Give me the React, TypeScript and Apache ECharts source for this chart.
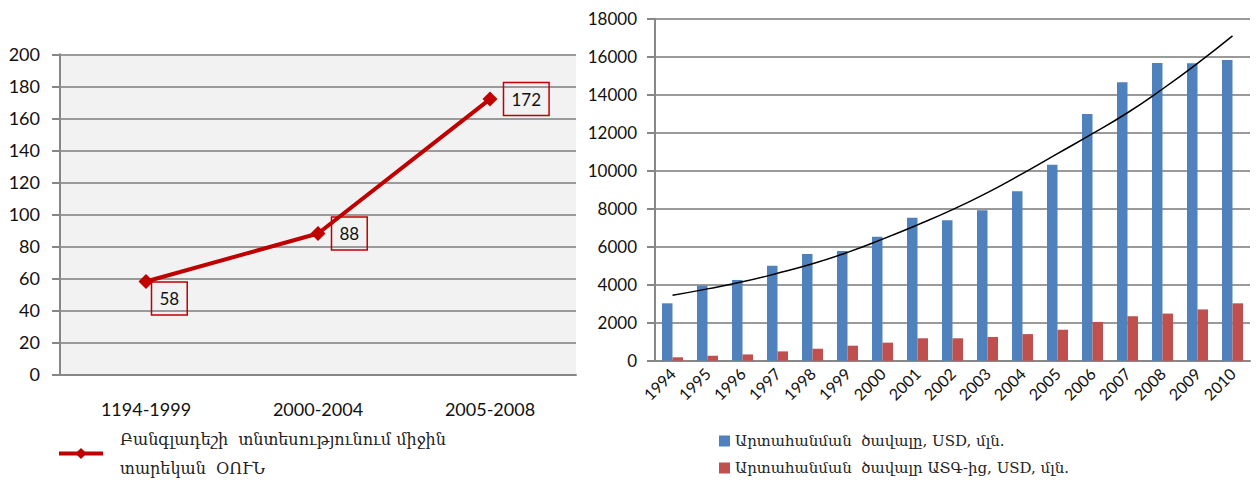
import React, { useEffect, useRef } from "react";
import * as echarts from "echarts";

const periods = ["1194-1999", "2000-2004", "2005-2008"];
const gdpGrowth = [58, 88, 172];
const gdpName = "Բանգլադեշի  տնտեսությունում միջին\nտարեկան  ՕՈՒՆ";

const years = ["1994", "1995", "1996", "1997", "1998", "1999", "2000", "2001", "2002", "2003", "2004", "2005", "2006", "2007", "2008", "2009", "2010"];
const exportTotal = [3020, 3950, 4250, 5000, 5620, 5780, 6530, 7530, 7390, 7920, 8920, 10310, 12980, 14660, 15670, 15650, 15820];
const exportFrom = [180, 260, 330, 490, 630, 790, 950, 1180, 1180, 1250, 1400, 1630, 2040, 2340, 2480, 2700, 3020];
const exportTrend = [3440, 3780, 4150, 4600, 5100, 5700, 6400, 7150, 7950, 8850, 9850, 10900, 11950, 13050, 14300, 15650, 17100];
const totalName = "Արտահանման  ծավալը, USD, մլն.";
const fromName = "Արտահանման  ծավալր ԱՏԳ-ից, USD, մլն.";

const NUM_FONT = "Lato, 'Open Sans', sans-serif";
const ARM_FONT = "'DejaVu Serif', 'DejaVu Sans', serif";
const AXIS_GRAY = "#878787";
const GRID_GRAY = "#9a9a9a";

export default function App() {
  const ref = useRef<HTMLDivElement>(null);
  useEffect(() => {
    if (!ref.current) return;
    const chart = echarts.init(ref.current, undefined, { renderer: "svg" });
    const labelOffsets: any[] = [
      { distance: 6, offset: [-8, 17] },
      { distance: 6, offset: [0, 0] },
      { distance: 6, offset: [0, 0] },
    ];
    const lineData = gdpGrowth.map((v, i) => ({
      value: v,
      label: { position: "right", ...labelOffsets[i] },
    }));
    chart.setOption({
      animation: false,
      grid: [
        { left: 60, right: 683, top: 54.3, bottom: 105.7, show: true, backgroundColor: "#f2f2f2", borderWidth: 0 },
        { left: 655, right: 9, top: 18.7, bottom: 119.3 },
      ],
      xAxis: [
        {
          gridIndex: 0,
          type: "category",
          data: periods,
          boundaryGap: true,
          axisLine: { lineStyle: { color: AXIS_GRAY, width: 2 } },
          axisTick: { length: 7, lineStyle: { color: AXIS_GRAY, width: 2 } },
          axisLabel: { margin: 26, fontFamily: NUM_FONT, fontSize: 18, color: "#111" },
        },
        {
          gridIndex: 1,
          type: "category",
          data: years,
          boundaryGap: true,
          axisLine: { lineStyle: { color: AXIS_GRAY, width: 2 } },
          axisTick: { length: 7, lineStyle: { color: AXIS_GRAY, width: 2 } },
          axisLabel: { margin: 10, rotate: 45, interval: 0, fontFamily: NUM_FONT, fontSize: 16, color: "#111" },
        },
      ],
      yAxis: [
        {
          gridIndex: 0,
          type: "value",
          min: 0,
          max: 200,
          interval: 20,
          axisLine: { show: true, lineStyle: { color: AXIS_GRAY, width: 2 } },
          axisTick: { show: true, length: 8, lineStyle: { color: AXIS_GRAY, width: 2 } },
          axisLabel: { margin: 20, fontFamily: NUM_FONT, fontSize: 18, color: "#111" },
          splitLine: { lineStyle: { color: GRID_GRAY, width: 2 } },
        },
        {
          gridIndex: 1,
          type: "value",
          min: 0,
          max: 18000,
          interval: 2000,
          axisLine: { show: true, lineStyle: { color: AXIS_GRAY, width: 2 } },
          axisTick: { show: true, length: 8, lineStyle: { color: AXIS_GRAY, width: 2 } },
          axisLabel: {
            margin: 18,
            fontFamily: NUM_FONT,
            fontSize: 17,
            color: "#111",
            formatter: (v: number) => String(v),
          },
          splitLine: { lineStyle: { color: GRID_GRAY, width: 2 } },
        },
      ],
      legend: [
        {
          data: [gdpName],
          left: 57,
          top: 419,
          padding: 0,
          orient: "vertical",
          itemWidth: 44,
          itemHeight: 14,
          lineStyle: { width: 4 },
          textStyle: {
            fontFamily: ARM_FONT,
            fontSize: 16,
            lineHeight: 29,
            color: "#222",
            padding: [11, 0, 0, 12],
          },
        },
        {
          data: [totalName, fromName],
          left: 719,
          top: 432,
          padding: 0,
          orient: "vertical",
          icon: "rect",
          itemWidth: 11,
          itemHeight: 11,
          itemGap: 9,
          textStyle: { fontFamily: ARM_FONT, fontSize: 15, lineHeight: 18, color: "#222" },
        },
      ],
      series: [
        {
          name: gdpName,
          type: "line",
          xAxisIndex: 0,
          yAxisIndex: 0,
          data: lineData,
          symbol: "diamond",
          symbolSize: 15,
          lineStyle: { color: "#c00000", width: 4 },
          itemStyle: { color: "#c00000" },
          label: {
            show: true,
            fontFamily: NUM_FONT,
            fontSize: 17,
            color: "#111",
            lineHeight: 19,
            padding: [7, 8, 7, 8],
            borderColor: "#c00000",
            borderWidth: 1.5,
          },
        },
        {
          name: totalName,
          type: "bar",
          xAxisIndex: 1,
          yAxisIndex: 1,
          data: exportTotal,
          barWidth: 10.5,
          barGap: "0%",
          itemStyle: { color: "#4f81bd" },
        },
        {
          name: fromName,
          type: "bar",
          xAxisIndex: 1,
          yAxisIndex: 1,
          data: exportFrom,
          barWidth: 10.5,
          barGap: "0%",
          itemStyle: { color: "#c0504d" },
        },
        {
          name: "trend",
          type: "line",
          xAxisIndex: 1,
          yAxisIndex: 1,
          data: exportTrend,
          smooth: true,
          symbol: "none",
          lineStyle: { color: "#000", width: 1.5 },
          z: 5,
        },
      ],
    });
    return () => chart.dispose();
  }, []);
  return (
    <div
      ref={ref}
      style={{ position: "absolute", left: 0, top: 0, width: 1259, height: 480, background: "#fff" }}
    />
  );
}
